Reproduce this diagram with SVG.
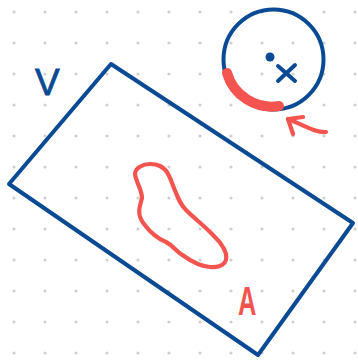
<svg xmlns="http://www.w3.org/2000/svg" width="358" height="360" viewBox="0 0 358 360">
<defs>
<pattern id="dots" x="14" y="12" width="31" height="31" patternUnits="userSpaceOnUse">
<circle cx="0" cy="0" r="1.6" fill="#cfcfcf"/>
<circle cx="31" cy="0" r="1.6" fill="#cfcfcf"/>
<circle cx="0" cy="31" r="1.6" fill="#cfcfcf"/>
<circle cx="31" cy="31" r="1.6" fill="#cfcfcf"/>
</pattern>
</defs>
<style>
.blue{fill:none;stroke:#0a4a94;stroke-width:4;stroke-linecap:round;stroke-linejoin:round}
.red{fill:none;stroke:#f4544f;stroke-width:4.2;stroke-linecap:round;stroke-linejoin:round}
.lbl{font-family:"Liberation Sans",Arial,sans-serif}
</style>
<rect width="358" height="360" fill="#ffffff"/>
<rect width="358" height="360" fill="url(#dots)"/>
<g id="region-V">
<polygon class="blue" points="111,64 9,184 258,355 353,223"/>
</g>
<g id="blob">
<path class="red" d="M150,164 C143,164 135,168 135,174 C136,182 142,190 142,198 C140,206 136,214 144,224 C150,232 156,238 166,242 C174,246 176,252 184,256 C192,262 200,266 210,267 C220,268 228,264 226,254 C224,246 218,240 210,232 C202,224 194,218 186,210 C180,204 178,198 174,188 C170,178 168,170 160,166 C156,164 153,164 150,164 Z"/>
</g>
<g id="disc">
<circle class="blue" cx="273.5" cy="59.5" r="50"/>
<circle cx="270" cy="57" r="4.5" fill="#0a4a94"/>
<path class="blue" d="M278,66 L295,81 M295,65 L278,81" stroke-width="4.5"/>
<path d="M227,73 A46.5,46.5 0 0 0 279,106" fill="none" stroke="#f4544f" stroke-width="10" stroke-linecap="round"/>
</g>
<g id="label-V">
<text class="lbl" x="35" y="95" font-size="37" fill="#0a4a94" stroke="#0a4a94" stroke-width="0.8">V</text>
</g>
<g id="label-A">
<text class="lbl" transform="translate(238,315) scale(0.62,1)" font-size="41" font-weight="bold" fill="#f4544f">A</text>
</g>
<g id="connectors">
<path class="red" d="M326,132 C316,133 306,126 288,119"/>
<path class="red" d="M303,117 L288,119 L293,134"/>
</g>
</svg>
